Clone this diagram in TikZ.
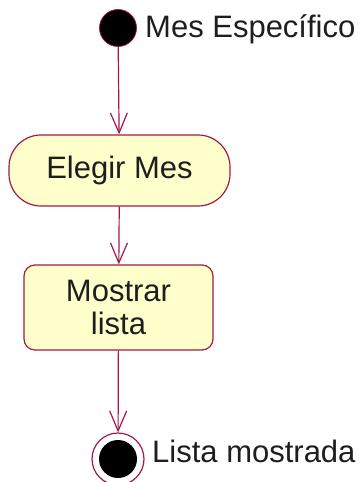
\documentclass[tikz,border=0pt]{standalone}
\usepackage{fontspec}
\setmainfont{Liberation Sans}
\usetikzlibrary{arrows.meta}
\definecolor{umlred}{RGB}{165,25,70}
\definecolor{umlfill}{RGB}{255,255,204}
\definecolor{txt}{RGB}{30,30,30}
\tikzset{
  flow/.style={draw=umlred, line width=1.2pt, -{Straight Barb[length=20pt,width=17pt,line width=1.2pt]}},
  actbox/.style={draw=umlred, line width=1.2pt, fill=umlfill, text=txt, align=center, inner sep=0pt,
    font=\fontsize{31}{33}\selectfont},
  lbl/.style={text=txt, inner sep=0pt, anchor=base west, font=\fontsize{31}{33}\selectfont}
}
\begin{document}
\begin{tikzpicture}[x=1pt,y=-1pt]
\useasboundingbox (0,0) rectangle (364,482);
\node[circle, draw=umlred, line width=0.8pt, fill=black, minimum size=37pt, inner sep=0pt] (start) at (118,28) {};
\node[lbl] (startlbl) at (145,37) {Mes Específico};
\node[actbox, minimum width=221pt, minimum height=71pt, rounded corners=32pt] (elegir) at (119.5,170.5) {Elegir Mes};
\node[actbox, minimum width=189pt, minimum height=85pt, rounded corners=11pt] (mostrar) at (118.5,307.5) {Mostrar\\lista};
\node[circle, draw=umlred, line width=1.2pt, fill=white, minimum size=52pt, inner sep=0pt] (end) at (118,459) {};
\node[circle, fill=black, minimum size=38pt, inner sep=0pt] (endin) at (end.center) {};
\node[lbl] (endlbl) at (152,462) {Lista mostrada};
\draw[flow] (start) -- (elegir);
\draw[flow] (elegir) -- (mostrar);
\draw[flow] (mostrar) -- (end);
\end{tikzpicture}
\end{document}
